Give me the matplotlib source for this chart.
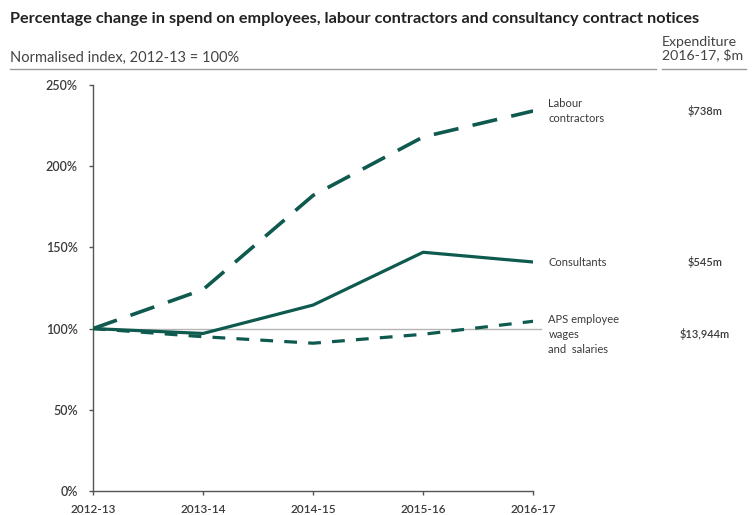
import matplotlib
matplotlib.use("Agg")
import matplotlib.pyplot as plt
from matplotlib.lines import Line2D

plt.rcParams['font.family'] = ['Lato', 'DejaVu Sans']

years = ["2012-13", "2013-14", "2014-15", "2015-16", "2016-17"]
labour = [100, 124, 182, 218, 234]
consultants = [100, 97, 114.5, 147, 141]
aps = [100, 95, 91, 96.5, 104.5]

names = ["Labour\ncontractors", "Consultants", "APS employee\nwages\nand  salaries"]
spend = ["$738m", "$545m", "$13,944m"]

teal = "#0f5a4e"
grey = "#3a3a3a"

fig = plt.figure(figsize=(7.52, 5.15), dpi=100)
ax = fig.add_axes([0.1237, 0.0466, 0.5853, 0.7884])

x = list(range(len(years)))
ax.plot([0, 4.07], [100, 100], color="#b5b5b5", lw=1, zorder=1, clip_on=False)
ax.plot(x, labour, color=teal, lw=2.6, dashes=(7, 4), zorder=3)
ax.plot(x, consultants, color=teal, lw=2.3, zorder=3)
ax.plot(x, aps, color=teal, lw=2.3, dashes=(4, 3.5), zorder=2)

ax.set_xlim(0, 4)
ax.set_ylim(0, 250)
ax.set_xticks(x)
ax.set_xticklabels(years)
ax.set_yticks([0, 50, 100, 150, 200, 250])
ax.set_yticklabels([f"{v}%" for v in [0, 50, 100, 150, 200, 250]])
for s in ["top", "right"]:
    ax.spines[s].set_visible(False)
for s in ["left", "bottom"]:
    ax.spines[s].set_color("#555555")
    ax.spines[s].set_linewidth(1)
ax.tick_params(axis="both", length=3, width=1, color="#555555",
               labelcolor=grey)
ax.tick_params(axis="x", pad=6, labelsize=8.5)
ax.tick_params(axis="y", pad=8, labelsize=9)
for t in ax.get_xticklabels() + ax.get_yticklabels():
    t.set_fontweight("semibold")

# series labels and expenditure on the right
ends = [labour[-1], consultants[-1], aps[-1]]
offs = [0, 0, -8]
for name, val, y0, dy in zip(names, spend, ends, offs):
    ax.annotate(name, xy=(4, y0 + dy), xycoords="data",
                xytext=(11, 0), textcoords="offset points",
                ha="left", va="center", fontsize=8, color=grey,
                annotation_clip=False, linespacing=1.45)
    ax.annotate(val, xy=(0.937, y0 + dy), xycoords=("figure fraction", "data"),
                ha="center", va="center", fontsize=8, color=grey,
                fontweight="semibold", annotation_clip=False)

fig.text(0.013, 0.963, "Percentage change in spend on employees, labour contractors and consultancy contract notices",
         fontsize=11.7, fontweight="bold", color="#222222", va="center")
fig.text(0.013, 0.888, "Normalised index, 2012-13 = 100%",
         fontsize=10.5, color="#444444", va="center")
fig.text(0.88, 0.905, "Expenditure\n2016-17, $m",
         fontsize=10.2, color="#444444", va="center", linespacing=1.05)
fig.add_artist(Line2D([0.013, 0.872], [0.866, 0.866], color="#999999", lw=1))
fig.add_artist(Line2D([0.88, 0.992], [0.866, 0.866], color="#999999", lw=1))

fig.savefig("out.png", dpi=100)
